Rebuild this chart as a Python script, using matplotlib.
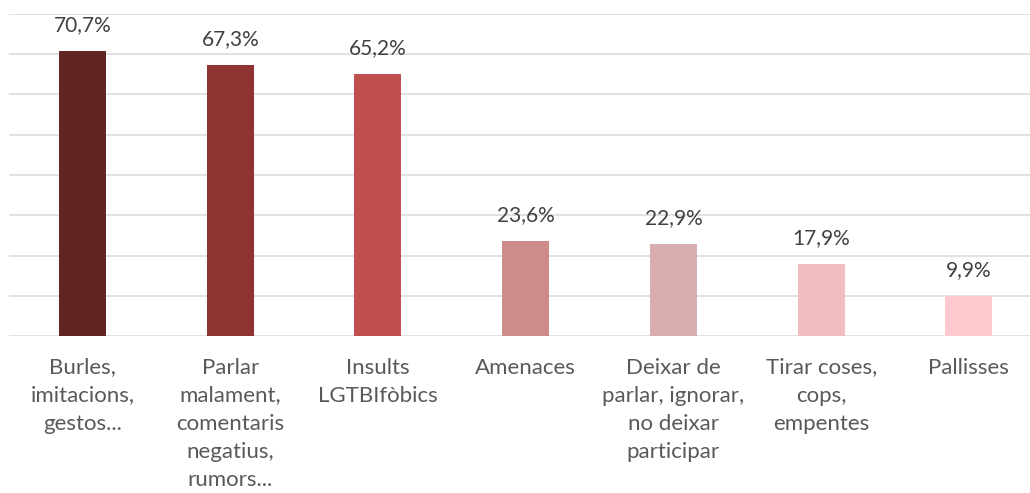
import matplotlib.pyplot as plt
import numpy as np

plt.rcParams.update({
    'font.family': ['Lato', 'DejaVu Sans'],
    'font.size': 15,
})

categories = ['Burles,\nimitacions,\ngestos...',
              'Parlar\nmalament,\ncomentaris\nnegatius,\nrumors...',
              'Insults\nLGTBIfòbics',
              'Amenaces',
              'Deixar de\nparlar, ignorar,\nno deixar\nparticipar',
              'Tirar coses,\ncops,\nempentes',
              'Pallisses']
values = [70.7, 67.3, 65.2, 23.6, 22.9, 17.9, 9.9]
colors = ['#632523', '#8E3331', '#C0504D', '#CD8C8A', '#D8AFAE', '#F2BDC2', '#FFC7CE']

W, H = 1030, 493
fig = plt.figure(figsize=(W / 100, H / 100), dpi=100)
left, right = 8.7, 1042.7
bottom, top = 336, 14
ax = fig.add_axes([left / W, (H - bottom) / H, (right - left) / W, (bottom - top) / H])

x = np.arange(len(values))
bars = ax.bar(x, values, width=0.318, color=colors, zorder=3)

ax.set_xlim(-0.5, len(values) - 0.5)
ax.set_ylim(0, 80)
ax.set_yticks(np.arange(0, 81, 10))
ax.yaxis.grid(True, color='#D9D9D9', linewidth=1.1, zorder=0)
ax.set_axisbelow(True)
for s in ax.spines.values():
    s.set_visible(False)
ax.tick_params(axis='y', left=False, labelleft=False)
ax.tick_params(axis='x', bottom=False, pad=12)
ax.set_xticks(x)
ax.set_xticklabels(categories, color='#595959', linespacing=1.5, va='top', fontsize=16)

for b, v in zip(bars, values):
    ax.annotate(f'{v:.1f}%'.replace('.', ','), (b.get_x() + b.get_width() / 2, v),
                xytext=(0, 11.5), textcoords='offset points', ha='center', va='bottom',
                color='#404040', fontsize=15)

fig.savefig('out.png', dpi=100)
